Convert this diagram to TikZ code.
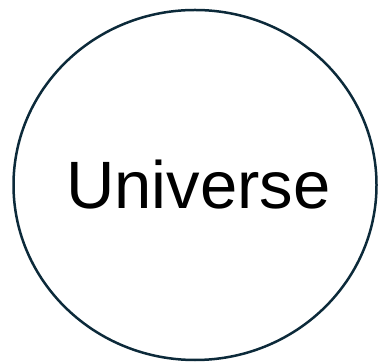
\documentclass[tikz,border=0pt]{standalone}
\usepackage{fontspec}
\setmainfont{Liberation Sans}
\usetikzlibrary{shapes.geometric}
\definecolor{edge}{HTML}{0C2A3A}
\begin{document}
\begin{tikzpicture}[x=1pt,y=1pt,
  blob/.style={draw=edge,line width=2.5pt,ellipse,minimum width=363pt,minimum height=350pt,inner sep=0pt,outer sep=0pt},
  lbl/.style={font=\fontsize{67}{70}\selectfont,inner sep=0pt,text=black}]
\useasboundingbox (0,0) rectangle (379,363);
\node[blob] (u) at (195,178) {};
\node[lbl,anchor=base] (t) at (198.5,154) {Universe};
\end{tikzpicture}
\end{document}
